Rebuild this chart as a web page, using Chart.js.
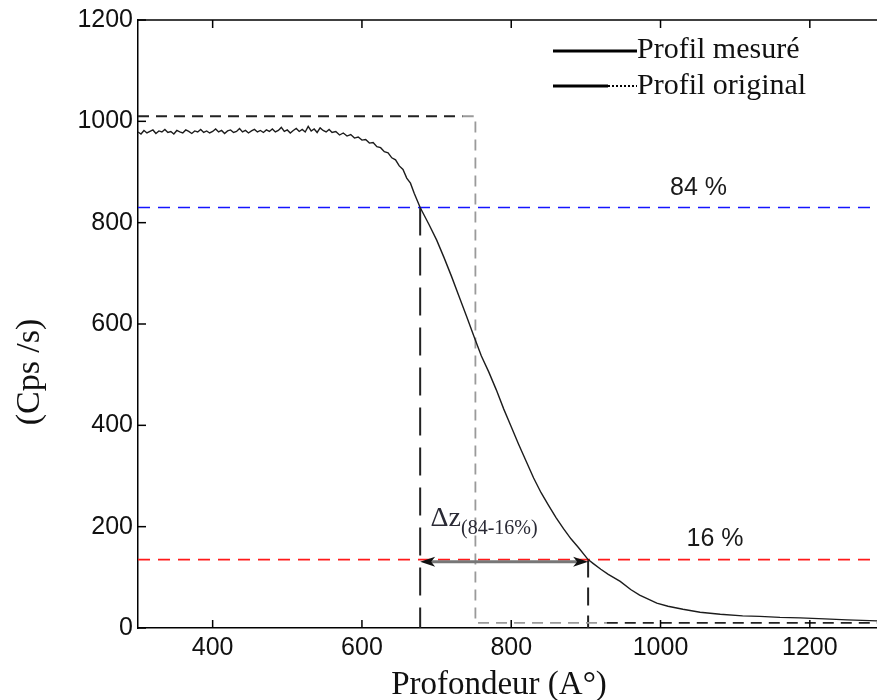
<!DOCTYPE html>
<html>
<head>
<meta charset="utf-8">
<script src="https://cdn.jsdelivr.net/npm/chart.js@4.4.1/dist/chart.umd.min.js"></script>
<style>
  html, body { margin: 0; padding: 0; background: #fff; }
  #cadre { width: 877px; height: 700px; position: relative; }
</style>
</head>
<body>
<div id="cadre"><canvas id="graficoProfil"></canvas></div>
<script>
// Profil mesuré : profondeur (A°) et intensité (Cps/s)
const profondeur = [
  300, 304, 308, 312, 316, 320, 324, 328, 332, 336, 340, 344, 348, 352, 356, 360,
  364, 368, 372, 376, 380, 384, 388, 392, 396, 400, 404, 408, 412, 416, 420, 424,
  428, 432, 436, 440, 444, 448, 452, 456, 460, 464, 468, 472, 476, 480, 484, 488,
  492, 496, 500, 504, 508, 512, 516, 520, 524, 528, 532, 536, 540, 544, 548, 552,
  556, 560, 565, 570, 575, 580, 585, 590, 595, 600, 605, 610, 615, 620, 625, 630,
  635, 640, 645, 650, 655, 660, 665, 670, 678, 690, 700, 710, 720, 730, 740, 750,
  760, 770, 780, 790, 800, 810, 820, 830, 840, 850, 860, 870, 880, 890, 903, 910,
  920, 930, 946, 960, 972, 985, 995, 1010, 1030, 1053, 1080, 1110, 1133, 1160, 1187,
  1220, 1250, 1290
];
const cpsMesure = [
  979, 975, 982, 977, 980, 983, 976, 981, 979, 984, 978, 980, 975, 982, 979, 977,
  983, 980, 976, 981, 979, 984, 978, 981, 977, 980, 985, 979, 982, 976, 981, 983,
  978, 980, 986, 979, 982, 977, 981, 984, 979, 982, 978, 983, 980, 985, 979, 982,
  988, 980, 983, 977, 982, 986, 980, 984, 979, 990, 981, 985, 978, 987, 982, 979,
  984, 978, 980, 973, 977, 971, 974, 967, 969, 963, 964, 957, 958, 950, 948, 940,
  938, 928, 924, 912, 905, 888, 878, 858, 830, 796, 766, 731, 694, 655, 616, 576,
  537, 505, 470, 432, 397, 362, 329, 296, 267, 242, 218, 196, 176, 159, 135, 127,
  116, 106, 92, 76, 65, 56, 49, 43, 37, 31, 27, 24, 23, 21, 20,
  18, 16, 14
];

// Profil original (marche)
const originalX = [300, 735, 752, 752, 928, 1290];
const originalY = [1010, 1010, 1010, 10, 10, 10];

// Niveaux 84 % et 16 %, profondeurs correspondantes
const niveau84 = 830;
const niveau16 = 135;
const z84 = 678;
const z16 = 903;
const niveauFleche = 131;

const xMin = 300, xMax = 1290;
const xTicks = [400, 600, 800, 1000, 1200];
const yTicks = [0, 200, 400, 600, 800, 1000, 1200];

const serif = '"Liberation Serif", "DejaVu Serif", serif';
const sans = '"Liberation Sans", Arial, sans-serif';

function pts(xs, ys) {
  return xs.map((x, i) => ({ x: x, y: ys[i] }));
}

function trait(ctx, x1, y1, x2, y2) {
  ctx.beginPath();
  ctx.moveTo(x1, y1);
  ctx.lineTo(x2, y2);
  ctx.stroke();
}

function pointe(ctx, x, y, dir) {
  ctx.beginPath();
  ctx.moveTo(x, y);
  ctx.lineTo(x - dir * 15, y - 5);
  ctx.lineTo(x - dir * 11, y);
  ctx.lineTo(x - dir * 15, y + 5);
  ctx.closePath();
  ctx.fill();
}

// graduations intérieures, cadre, flèche, textes et légende
const decor = {
  id: 'decor',
  afterDatasetsDraw(chart) {
    const { ctx, chartArea: a, scales: { x, y } } = chart;
    ctx.save();
    ctx.strokeStyle = '#000';
    ctx.lineWidth = 1.5;
    ctx.setLineDash([]);
    trait(ctx, a.left, a.top, a.right, a.top);
    xTicks.forEach(v => {
      const px = x.getPixelForValue(v);
      trait(ctx, px, a.bottom, px, a.bottom - 8);
      trait(ctx, px, a.top, px, a.top + 8);
    });
    yTicks.forEach(v => {
      const py = y.getPixelForValue(v);
      trait(ctx, a.left, py, a.left + 8, py);
    });

    // flèche Δz
    const xa = x.getPixelForValue(z84), xb = x.getPixelForValue(z16);
    const yf = y.getPixelForValue(niveauFleche);
    ctx.strokeStyle = '#777';
    ctx.lineWidth = 3;
    trait(ctx, xa + 8, yf, xb - 8, yf);
    ctx.fillStyle = '#111';
    pointe(ctx, xa, yf, -1);
    pointe(ctx, xb, yf, 1);

    // étiquettes
    ctx.fillStyle = '#2a2a35';
    ctx.textBaseline = 'alphabetic';
    ctx.textAlign = 'left';
    ctx.font = '28px ' + serif;
    const xd = x.getPixelForValue(692), yd = y.getPixelForValue(202);
    ctx.fillText('\u0394z', xd, yd);
    const wd = ctx.measureText('\u0394z').width;
    ctx.font = '20px ' + serif;
    ctx.fillText('(84-16%)', xd + wd, yd + 8);

    ctx.fillStyle = '#1a1a1a';
    ctx.font = '25px ' + sans;
    ctx.textAlign = 'center';
    ctx.fillText('84 %', x.getPixelForValue(1051), y.getPixelForValue(855));
    ctx.fillText('16 %', x.getPixelForValue(1073), y.getPixelForValue(162));

    // légende
    const lx = 553, lm = 608, lr = 637;
    ctx.strokeStyle = '#000';
    ctx.lineWidth = 3;
    trait(ctx, lx, 51, lr, 51);
    trait(ctx, lx, 86, lm, 86);
    ctx.lineWidth = 2;
    ctx.setLineDash([2, 2]);
    trait(ctx, lm, 86, lr, 86);
    ctx.setLineDash([]);
    ctx.fillStyle = '#111';
    ctx.textAlign = 'left';
    ctx.textBaseline = 'middle';
    ctx.font = '30px ' + serif;
    ctx.fillText('Profil mesuré', lr, 50);
    ctx.fillText('Profil original', lr, 86);

    // titres des axes
    ctx.textAlign = 'center';
    ctx.textBaseline = 'alphabetic';
    ctx.font = '33px ' + serif;
    ctx.fillText('Profondeur (A°)', 499, 694);
    ctx.translate(30, 372);
    ctx.rotate(-Math.PI / 2);
    ctx.textBaseline = 'middle';
    ctx.font = '34px ' + serif;
    ctx.fillText('(Cps /s)', 0, 0);
    ctx.restore();
  }
};

const gris = '#9a9a9a';

new Chart(document.getElementById('graficoProfil'), {
  type: 'line',
  data: {
    datasets: [
      {
        label: 'Profil mesuré',
        data: pts(profondeur, cpsMesure),
        borderColor: '#1c1c1c',
        borderWidth: 1.4,
        pointRadius: 0,
        tension: 0
      },
      {
        label: 'Profil original',
        data: pts(originalX, originalY),
        borderColor: '#222',
        borderWidth: 1.8,
        borderDash: [11, 7],
        pointRadius: 0,
        segment: {
          borderColor: c => (c.p0DataIndex >= 1 && c.p0DataIndex <= 3) ? gris : '#222'
        }
      },
      {
        label: '84 %',
        data: pts([xMin, xMax], [niveau84, niveau84]),
        borderColor: '#1515ff',
        borderWidth: 1.6,
        borderDash: [12, 8],
        pointRadius: 0
      },
      {
        label: '16 %',
        data: pts([xMin, xMax], [niveau16, niveau16]),
        borderColor: '#ff1a1a',
        borderWidth: 1.6,
        borderDash: [12, 8],
        pointRadius: 0
      },
      {
        label: 'z84',
        data: pts([z84, z84], [niveau84, 0]),
        borderColor: '#222',
        borderWidth: 2,
        borderDash: [28, 12],
        pointRadius: 0
      },
      {
        label: 'z16',
        data: pts([z16, z16], [niveau16, 0]),
        borderColor: '#222',
        borderWidth: 2,
        borderDash: [18, 10],
        pointRadius: 0
      }
    ]
  },
  options: {
    responsive: true,
    maintainAspectRatio: false,
    animation: false,
    layout: { padding: { top: 15, right: 0, left: 0, bottom: 0 } },
    plugins: {
      legend: { display: false },
      tooltip: { enabled: false }
    },
    scales: {
      x: {
        type: 'linear',
        min: xMin,
        max: xMax,
        afterBuildTicks: s => { s.ticks = xTicks.map(v => ({ value: v })); },
        afterFit: s => { s.height = 72; },
        grid: { display: false, drawTicks: false },
        border: { display: true, color: '#000', width: 1.5 },
        ticks: { color: '#111', padding: 5, font: { family: sans, size: 25 }, callback: v => String(v) }
      },
      y: {
        type: 'linear',
        min: 0,
        max: 1200,
        afterBuildTicks: s => { s.ticks = yTicks.map(v => ({ value: v })); },
        afterFit: s => { s.width = 138; },
        grid: { display: false, drawTicks: false },
        border: { display: true, color: '#000', width: 1.5 },
        ticks: { color: '#111', padding: 5, font: { family: sans, size: 25 }, callback: v => String(v) }
      }
    }
  },
  plugins: [decor]
});
</script>
</body>
</html>
